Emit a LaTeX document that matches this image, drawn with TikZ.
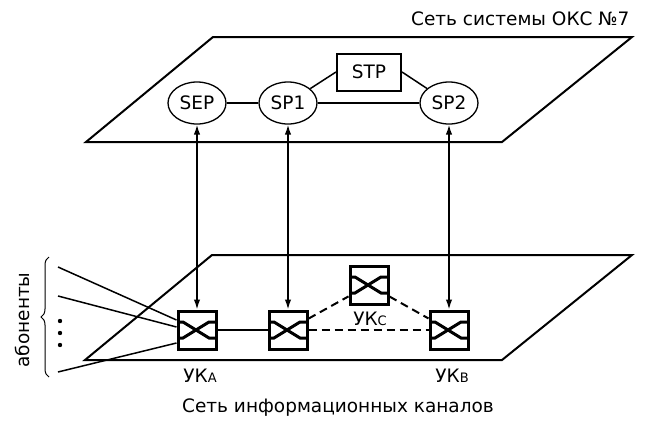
\documentclass[tikz,border=0pt]{standalone}
\usepackage{fontspec}
\setmainfont{DejaVu Sans}
\usetikzlibrary{arrows.meta}
\usetikzlibrary{shapes}
\usetikzlibrary{decorations.pathreplacing}
\newcommand{\ukname}[1]{УК{\fontsize{13}{13}\selectfont #1}}

\begin{document}
\begin{tikzpicture}[x = 1pt, y = -1pt, font = \fontsize{18.5}{20}\selectfont]
\tikzstyle{planeStyle} = [line width = 2pt, line join = miter]
\tikzstyle{linkStyle} = [line width = 1.5pt]
\tikzstyle{signalStyle} = [line width = 1.5pt, {Latex[length = 10pt, width = 6.5pt]}-{Latex[length = 10pt, width = 6.5pt]}]
\tikzstyle{spStyle} = [shape = ellipse, draw, line width = 1.3pt, minimum width = 58pt, minimum height = 42pt, inner sep = 1pt]
\tikzstyle{stpStyle} = [shape = rectangle, draw, line width = 2pt, minimum width = 64pt, minimum height = 37pt]
\tikzstyle{switchStyle} = [shape = rectangle, draw, line width = 3pt, minimum size = 38pt, inner sep = 0pt]
\tikzstyle{trunkStyle} = [line width = 2pt, dash pattern = on 8pt off 5pt]
\useasboundingbox (0,0) rectangle (650,423);
% planes
\draw[planeStyle] (86,142) -- (213,37) -- (632,37) -- (502,142) -- cycle;
\draw[planeStyle] (85,360) -- (212,255) -- (632,255) -- (502,360) -- cycle;
\node[anchor = east] (oksTitle) at (633,19) {Сеть системы ОКС №7};
\node (infoTitle) at (338,408) {Сеть информационных каналов};
% signalling points
\node[spStyle] (sep) at (197,103) {SEP};
\node[spStyle] (spOne) at (288,103) {SP1};
\node[spStyle] (spTwo) at (449,103) {SP2};
\node[stpStyle] (stp) at (369,72) {STP};
\draw[linkStyle] (sep) -- (spOne);
\draw[linkStyle] (spOne) -- (spTwo);
\draw[linkStyle] (spOne) -- (stp.west);
\draw[linkStyle] (stp.east) -- (spTwo);
% switches
\node[switchStyle] (ukA) at (197,330) {};
\node[switchStyle] (ukM) at (288,330) {};
\node[switchStyle] (ukC) at (369,285) {};
\node[switchStyle] (ukB) at (449,330) {};
\foreach \s in {ukA, ukM, ukC, ukB}
{
\draw[line width = 3pt] ([shift = {(-20,-8)}]\s.center) -- ([shift = {(-14,-8)}]\s.center) -- ([shift = {(12,8)}]\s.center) -- ([shift = {(20,8)}]\s.center);
\draw[line width = 3pt] ([shift = {(-20,8)}]\s.center) -- ([shift = {(-14,8)}]\s.center) -- ([shift = {(12,-8)}]\s.center) -- ([shift = {(20,-8)}]\s.center);
}
\node (lblA) at (200,376) {\ukname{A}};
\node (lblC) at (370,319) {\ukname{C}};
\node (lblB) at (452,376) {\ukname{B}};
\draw[linkStyle] (ukA) -- (ukM);
\draw[trunkStyle] (ukM) -- (ukB);
\draw[trunkStyle] (ukM) -- (ukC);
\draw[trunkStyle] (ukC) -- (ukB);
% signalling links
\draw[signalStyle] (ukA) -- (sep);
\draw[signalStyle] (ukM) -- (spOne);
\draw[signalStyle] (ukB) -- (spTwo);
% subscribers
\coordinate (abOne) at (58,267);
\coordinate (abTwo) at (58,296);
\coordinate (abThree) at (58,372);
\draw[linkStyle] (abOne) -- ([yshift = 10pt]ukA.west);
\draw[linkStyle] (abTwo) -- ([yshift = 3pt]ukA.west);
\draw[linkStyle] (abThree) -- ([yshift = -13pt]ukA.west);
\foreach \y in {321, 333, 345}
\fill (60,\y) circle (2.2pt);
\draw[decorate, decoration = {brace, amplitude = 8pt}, line width = 1pt] (49,377) -- (49,257);
\node[rotate = 90] (abonents) at (22,320) {абоненты};
\end{tikzpicture}
\end{document}
